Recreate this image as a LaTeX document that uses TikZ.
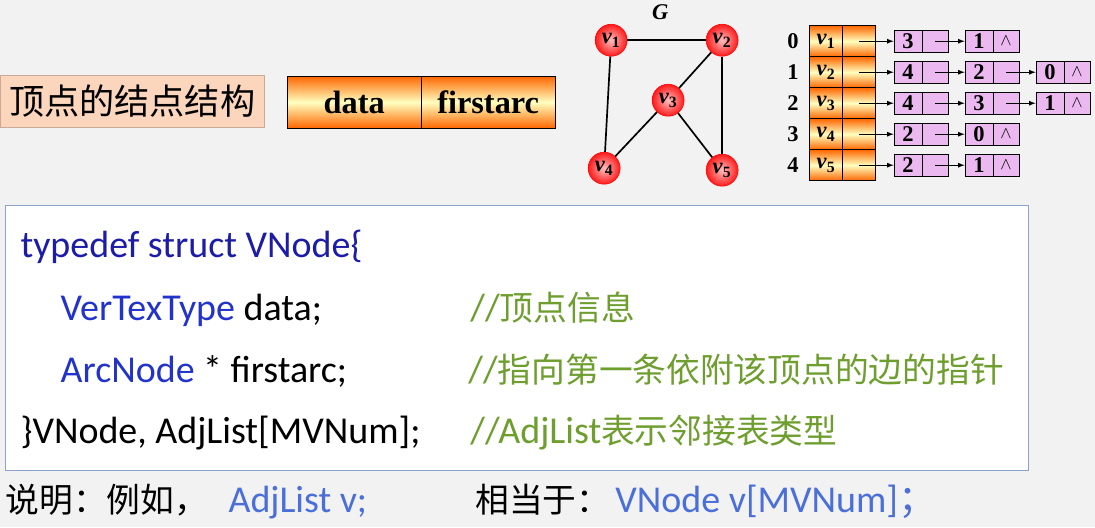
\documentclass[tikz,border=0pt]{standalone}
\usepackage{fontspec}
\setmainfont{Liberation Serif}
\newfontfamily\code{Carlito}
\newfontfamily\cjk{Noto Sans CJK SC}
\definecolor{bgc}{HTML}{F2F2F2}
\definecolor{peach}{HTML}{FBD5BC}
\definecolor{kwblue}{HTML}{1C1CA8}
\definecolor{tyblue}{HTML}{2233CC}
\definecolor{ltblue}{HTML}{4A6FD8}
\definecolor{cmgreen}{HTML}{6E9E2E}
\definecolor{boxblue}{HTML}{8CA2CC}
\definecolor{lilac}{HTML}{EBB8F0}
\tikzset{
  orng/.style={draw, thick, top color=orange!80!red, bottom color=orange!80!red, middle color=yellow!25},
  vert/.style={circle, draw=red, inner color=red!25, outer color=red!90, minimum size=0.8cm, inner sep=0pt, font=\bfseries\fontsize{16}{18}\selectfont},
  idx/.style={font=\bfseries\fontsize{16}{18}\selectfont},
  vcell/.style={orng, minimum width=0.825cm, minimum height=0.775cm, inner sep=0pt, font=\bfseries\fontsize{16}{18}\selectfont},
  num/.style={draw, semithick, fill=lilac, minimum width=0.7cm, minimum height=0.55cm, inner sep=0pt, font=\bfseries\fontsize{16}{18}\selectfont},
  ptr/.style={draw, semithick, fill=lilac, minimum width=0.65cm, minimum height=0.55cm, inner sep=0pt, font=\bfseries\large},
  lnk/.style={-latex, semithick},
  edge/.style={very thick},
  txt/.style={anchor=base west, inner sep=0pt, font=\code\fontsize{27}{30}\selectfont},
  ctxt/.style={anchor=base west, inner sep=0pt, font=\cjk\fontsize{24}{28}\selectfont}
}
\begin{document}
\begin{tikzpicture}[x=0.025cm, y=-0.025cm]
  % background
  \fill[bgc] (0,0) rectangle (1095,527);

  % node structure
  \node[fill=peach, draw=peach!80!black, minimum width=6.6cm, minimum height=1.3cm, inner sep=0pt, font=\cjk\fontsize{25}{28}\selectfont] (lbl) at (132,101) {顶点的结点结构};
  \node[orng, minimum width=3.35cm, minimum height=1.3cm, font=\bfseries\fontsize{23}{26}\selectfont] (fdata) at (354,102) {data};
  \node[orng, minimum width=3.35cm, minimum height=1.3cm, font=\bfseries\fontsize{23}{26}\selectfont] (ffirst) at (488,102) {firstarc};

  % graph G
  \node[font=\bfseries\itshape\fontsize{16}{18}\selectfont] (G) at (660,12) {G};
  \node[vert] (g1) at (611,40) {\textit{v}\textsubscript{1}};
  \node[vert] (g2) at (722,40) {\textit{v}\textsubscript{2}};
  \node[vert] (g3) at (668,100) {\textit{v}\textsubscript{3}};
  \node[vert] (g4) at (604,168) {\textit{v}\textsubscript{4}};
  \node[vert] (g5) at (722,170) {\textit{v}\textsubscript{5}};
  \draw[edge] (g1) -- (g2);
  \draw[edge] (g1) -- (g4);
  \draw[edge] (g2) -- (g3);
  \draw[edge] (g2) -- (g5);
  \draw[edge] (g3) -- (g4);
  \draw[edge] (g3) -- (g5);

  % adjacency list
  \foreach \i/\n/\lst in {0/2/{3,1},1/3/{4,2,0},2/3/{4,3,1},3/2/{2,0},4/2/{2,1}} {
    \pgfmathsetmacro\yy{41+31*\i}
    \pgfmathtruncatemacro\k{\i+1}
    \node[idx] (i\i) at (793,\yy) {\i};
    \node[vcell] (v\i) at (826,\yy) {\textit{v}\textsubscript{\k}};
    \node[vcell] (e\i-0) at (859,\yy) {};
    \foreach \a [count=\c] in \lst {
      \pgfmathtruncatemacro\pc{\c-1}
      \node[num] (n\i-\c) at ({908+71*(\c-1)},\yy) {\a};
      \ifnum\c=\n
        \node[ptr] (e\i-\c) at ({935+71*(\c-1)},\yy) {$\wedge$};
      \else
        \node[ptr] (e\i-\c) at ({935+71*(\c-1)},\yy) {};
      \fi
      \draw[lnk] (e\i-\pc.center) -- (n\i-\c.west);
    }
  }

  % code box
  \node[draw=boxblue, thick, fill=white, minimum width=25.575cm, minimum height=6.625cm, inner sep=0pt] (box) at (516.5,337.5) {};
  \node[txt, text=kwblue] (l1) at (20,257) {typedef struct VNode\{};
  \node[txt] (l2) at (60,320) {\textcolor{tyblue}{VerTexType} data;};
  \node[txt, text=cmgreen] (c2) at (470,320) {//{\cjk\fontsize{24}{28}\selectfont 顶点信息}};
  \node[txt] (l3) at (60,382) {\textcolor{tyblue}{ArcNode} * firstarc;};
  \node[txt, text=cmgreen] (c3) at (468,382) {//{\cjk\fontsize{24}{28}\selectfont 指向第一条依附该顶点的边的指针}};
  \node[txt] (l4) at (20,443) {\}VNode, AdjList[MVNum];};
  \node[txt, text=cmgreen] (c4) at (470,443) {//AdjList{\cjk\fontsize{24}{28}\selectfont 表示邻接表类型}};

  % bottom line
  \node[ctxt] (b1) at (5,512) {说明：例如，};
  \node[txt, text=ltblue] (b2) at (228,512) {AdjList v;};
  \node[ctxt] (b3) at (475,512) {相当于：};
  \node[txt, text=ltblue] (b4) at (615,512) {VNode v[MVNum]{\cjk ；}};
\end{tikzpicture}
\end{document}
